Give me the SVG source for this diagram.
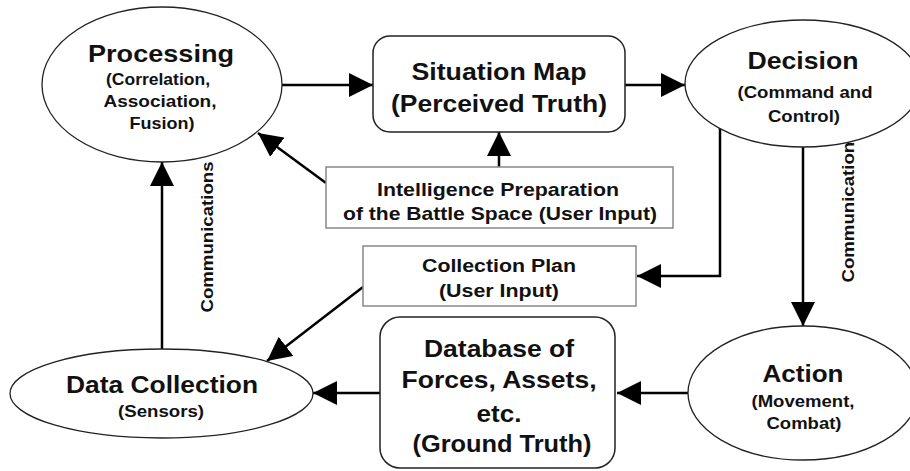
<svg xmlns="http://www.w3.org/2000/svg" width="910" height="471" viewBox="0 0 910 471">
<defs>
<style>
.bg{fill:#fff}
.ell{fill:#fff;stroke:#222;stroke-width:1.3}
.rbox{fill:#fff;stroke:#222;stroke-width:1.5}
.ubox{fill:#fff;stroke:#888;stroke-width:1.5}
.con{fill:none;stroke:#000;stroke-width:2.5}
text{font-family:"Liberation Sans",Arial,Helvetica,sans-serif;font-weight:bold;fill:#111;text-anchor:middle}
.t24{font-size:24px}
.t16{font-size:17px}
.t19{font-size:19px}
.t18{font-size:18px}
</style>
<marker id="ah" markerUnits="userSpaceOnUse" markerWidth="24" markerHeight="24" viewBox="0 0 24 24" refX="24" refY="12" orient="auto">
<path d="M0,0 L24,12 L0,24 z" fill="#000"/>
</marker>
</defs>
<rect class="bg" x="0" y="0" width="910" height="471"/>
<g id="connectors">
<line class="con" x1="282" y1="85" x2="373" y2="85" marker-end="url(#ah)"/>
<line class="con" x1="625" y1="85" x2="685" y2="85" marker-end="url(#ah)"/>
<line class="con" x1="499" y1="167" x2="499" y2="132" marker-end="url(#ah)"/>
<line class="con" x1="326" y1="183" x2="258" y2="133" marker-end="url(#ah)"/>
<path class="con" d="M720,128 V276 H637" marker-end="url(#ah)"/>
<line class="con" x1="803" y1="147" x2="803" y2="326" marker-end="url(#ah)"/>
<line class="con" x1="688" y1="393" x2="617" y2="393" marker-end="url(#ah)"/>
<line class="con" x1="380" y1="393" x2="313" y2="393" marker-end="url(#ah)"/>
<line class="con" x1="363" y1="287" x2="267" y2="361" marker-end="url(#ah)"/>
<line class="con" x1="162" y1="349" x2="162" y2="162" marker-end="url(#ah)"/>
<text class="t16" transform="translate(213,237) rotate(-90)" textLength="151" lengthAdjust="spacingAndGlyphs">Communications</text>
<text class="t16" transform="translate(854,207) rotate(-90)" textLength="151" lengthAdjust="spacingAndGlyphs">Communications</text>
</g>
<g id="processing">
<ellipse class="ell" cx="162" cy="84.5" rx="120" ry="77.5"/>
<text class="t24" x="161" y="62" textLength="146" lengthAdjust="spacingAndGlyphs">Processing</text>
<text class="t16" x="158" y="85" textLength="104" lengthAdjust="spacingAndGlyphs">(Correlation,</text>
<text class="t16" x="160" y="107" textLength="113" lengthAdjust="spacingAndGlyphs">Association,</text>
<text class="t16" x="162" y="129" textLength="65" lengthAdjust="spacingAndGlyphs">Fusion)</text>
</g>
<g id="situation-map">
<rect class="rbox" x="373" y="36" width="252" height="96" rx="17"/>
<text class="t24" x="499" y="80" textLength="175" lengthAdjust="spacingAndGlyphs">Situation Map</text>
<text class="t24" x="499" y="112" textLength="216" lengthAdjust="spacingAndGlyphs">(Perceived Truth)</text>
</g>
<g id="decision">
<ellipse class="ell" cx="803" cy="83.5" rx="118" ry="63.5"/>
<text class="t24" x="803" y="69" textLength="111" lengthAdjust="spacingAndGlyphs">Decision</text>
<text class="t16" x="805" y="98" textLength="135" lengthAdjust="spacingAndGlyphs">(Command and</text>
<text class="t16" x="804" y="122" textLength="72" lengthAdjust="spacingAndGlyphs">Control)</text>
</g>
<g id="ipb">
<rect class="ubox" x="326" y="167" width="347" height="61"/>
<text class="t19" x="498" y="196" textLength="242" lengthAdjust="spacingAndGlyphs">Intelligence Preparation</text>
<text class="t19" x="500" y="220" textLength="314" lengthAdjust="spacingAndGlyphs">of the Battle Space (User Input)</text>
</g>
<g id="collection-plan">
<rect class="ubox" x="363" y="246" width="273" height="60"/>
<text class="t18" x="499" y="272" textLength="154" lengthAdjust="spacingAndGlyphs">Collection Plan</text>
<text class="t18" x="499" y="297" textLength="120" lengthAdjust="spacingAndGlyphs">(User Input)</text>
</g>
<g id="action">
<ellipse class="ell" cx="803" cy="393" rx="115" ry="67"/>
<text class="t24" x="803" y="382" textLength="81" lengthAdjust="spacingAndGlyphs">Action</text>
<text class="t16" x="803" y="407" textLength="103" lengthAdjust="spacingAndGlyphs">(Movement,</text>
<text class="t16" x="804" y="429" textLength="75" lengthAdjust="spacingAndGlyphs">Combat)</text>
</g>
<g id="database">
<rect class="rbox" x="380" y="317" width="235" height="151" rx="20"/>
<text class="t24" x="499" y="357" textLength="150" lengthAdjust="spacingAndGlyphs">Database of</text>
<text class="t24" x="499" y="388" textLength="195" lengthAdjust="spacingAndGlyphs">Forces, Assets,</text>
<text class="t24" x="499" y="422" textLength="45" lengthAdjust="spacingAndGlyphs">etc.</text>
<text class="t24" x="502" y="452" textLength="179" lengthAdjust="spacingAndGlyphs">(Ground Truth)</text>
</g>
<g id="data-collection">
<ellipse class="ell" cx="161.5" cy="393.5" rx="151.5" ry="44.5"/>
<text class="t24" x="162" y="393" textLength="192" lengthAdjust="spacingAndGlyphs">Data Collection</text>
<text class="t16" x="161" y="417" textLength="86" lengthAdjust="spacingAndGlyphs">(Sensors)</text>
</g>
</svg>
